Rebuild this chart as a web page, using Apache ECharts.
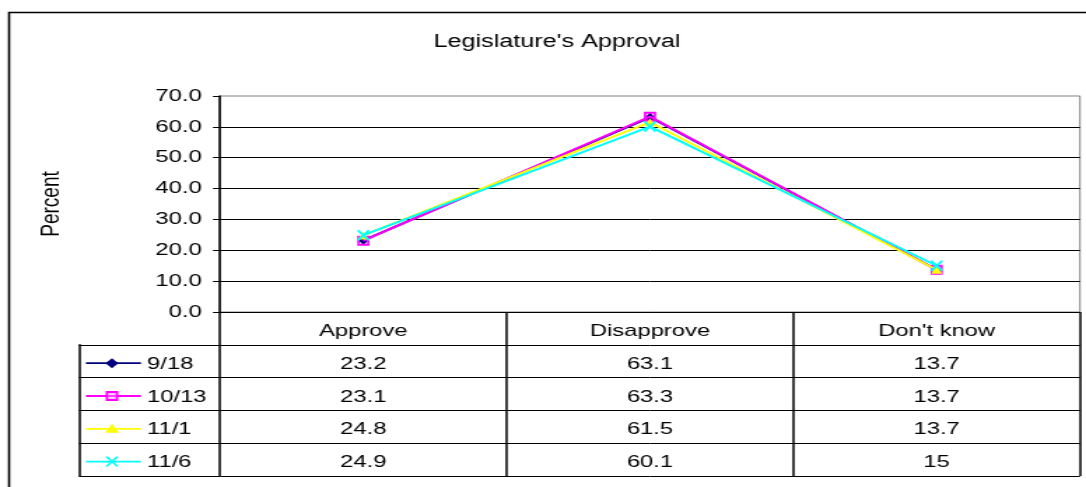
<!DOCTYPE html>
<html><head><meta charset="utf-8">
<script src="https://cdn.jsdelivr.net/npm/echarts@6/dist/echarts.min.js"></script>
<style>
html,body{margin:0;padding:0;background:#fff;overflow:hidden;width:1086px;height:487px;}
#chart{width:776px;height:487px;transform:scaleX(1.39948);transform-origin:0 0;}
</style></head><body><div id="chart"></div>
<script>
// ---- data ----
const TITLE = "Legislature's Approval";
const Y_NAME = 'Percent';
const CATEGORIES = ['Approve', 'Disapprove', "Don't know"];
const SERIES_NAMES = ['9/18', '10/13', '11/1', '11/6'];
const S_0918 = [23.2, 63.1, 13.7];
const S_1013 = [23.1, 63.3, 13.7];
const S_1101 = [24.8, 61.5, 13.7];
const S_1106 = [24.9, 60.1, 15];
const Y_MIN = 0, Y_MAX = 70, Y_STEP = 10;

// ---- styles ----
const SERIES_VALUES = [S_0918, S_1013, S_1101, S_1106];
const COLORS = ['#000080', '#FF00FF', '#FFFF00', '#00FFFF'];
const FONT = '"Liberation Sans", Arial, sans-serif';
const BLACK = '#000';

const PLOT_SYMBOLS = [
  { symbol: 'diamond', symbolSize: [7, 9], itemStyle: { color: COLORS[0], borderWidth: 0 } },
  { symbol: 'rect', symbolSize: [7, 8], itemStyle: { color: 'rgba(0,0,0,0)', borderColor: COLORS[1], borderWidth: 1.8 } },
  { symbol: 'triangle', symbolSize: [8, 8], itemStyle: { color: COLORS[2], borderWidth: 0 } },
  { symbol: 'path://M0,0L10,10M10,0L0,10', symbolSize: [8, 10], itemStyle: { color: 'rgba(0,0,0,0)', borderColor: COLORS[3], borderWidth: 1.8 } }
];

const lineSeries = SERIES_NAMES.map((name, i) => Object.assign({
  name: name,
  type: 'line',
  xAxisIndex: 0, yAxisIndex: 0,
  data: SERIES_VALUES[i],
  showSymbol: true,
  silent: true,
  z: 3 + i,
  lineStyle: { color: COLORS[i], width: 2 }
}, PLOT_SYMBOLS[i]));

// table rows: header row + one per series
const TABLE_ROWS = [' '].concat(SERIES_NAMES);
const cellData = [];
SERIES_NAMES.forEach((n, s) => CATEGORIES.forEach((c, ci) => cellData.push([c, n, SERIES_VALUES[s][ci]])));

const TEXT_DY = 3;

const tableSeries = {
  type: 'custom',
  xAxisIndex: 1, yAxisIndex: 1,
  silent: true,
  data: cellData,
  encode: { x: 0, y: 1 },
  renderItem: function (params, api) {
    const p = api.coord([api.value(0), api.value(1)]);
    return {
      type: 'text', x: p[0], y: p[1] + TEXT_DY,
      style: { text: String(cellData[params.dataIndex][2]), align: 'center', verticalAlign: 'middle', font: '17px ' + FONT, fill: BLACK }
    };
  }
};

function keyShape(i, cx, cy) {
  const c = COLORS[i];
  if (i === 0) return { type: 'polygon', shape: { points: [[cx, cy - 5], [cx + 4.6, cy], [cx, cy + 5], [cx - 4.6, cy]] }, style: { fill: c } };
  if (i === 1) return { type: 'rect', shape: { x: cx - 3.6, y: cy - 4, width: 7.2, height: 8 }, style: { fill: 'rgba(255,150,255,0.5)', stroke: c, lineWidth: 1.8 } };
  if (i === 2) return { type: 'polygon', shape: { points: [[cx, cy - 5], [cx + 5, cy + 4], [cx - 5, cy + 4]] }, style: { fill: c } };
  return { type: 'path', shape: { pathData: 'M' + (cx - 4) + ',' + (cy - 5) + 'L' + (cx + 4) + ',' + (cy + 5) + 'M' + (cx + 4) + ',' + (cy - 5) + 'L' + (cx - 4) + ',' + (cy + 5) }, style: { fill: 'none', stroke: c, lineWidth: 1.6 } };
}

const keySeries = {
  type: 'custom',
  xAxisIndex: 2, yAxisIndex: 2,
  silent: true,
  data: SERIES_NAMES.map(n => [0, n]),
  encode: { x: 0, y: 1 },
  renderItem: function (params, api) {
    const i = params.dataIndex;
    const p = api.coord([0, api.value(1)]);
    const x0 = params.coordSys.x, y = p[1] + 2;
    return {
      type: 'group',
      children: [
        { type: 'line', shape: { x1: x0 + 5, y1: y, x2: x0 + 44.3, y2: y }, style: { stroke: COLORS[i], lineWidth: 1.8 } },
        keyShape(i, x0 + 23.6, y),
        { type: 'text', x: x0 + 48.6, y: y + 1, style: { text: SERIES_NAMES[i], align: 'left', verticalAlign: 'middle', font: '17px ' + FONT, fill: BLACK } }
      ]
    };
  }
};

const PLOT_L = 157.2, PLOT_W = 614.5;

const option = {
  animation: false,
  backgroundColor: '#fff',
  textStyle: { fontFamily: FONT },
  title: {
    text: TITLE, left: 393, top: 28, textAlign: 'center',
    textStyle: { fontSize: 18, fontWeight: 'normal', color: BLACK, fontFamily: FONT }
  },
  graphic: [{
    type: 'rect', silent: true, z: -10,
    shape: { x: 6.5, y: 12.5, width: 1000, height: 1000 },
    style: { fill: 'none', stroke: BLACK, lineWidth: 1.6 }
  }],
  grid: [
    { left: PLOT_L, width: PLOT_W, top: 96, height: 216, show: true, borderColor: '#808080', borderWidth: 1, backgroundColor: 'rgba(0,0,0,0)', containLabel: false },
    { left: PLOT_L, width: PLOT_W, top: 312, height: 164, containLabel: false },
    { left: 56.4, width: PLOT_L - 56.4, top: 312 + 164 / 5, height: 164 * 4 / 5, containLabel: false }
  ],
  xAxis: [
    {
      gridIndex: 0, type: 'category', data: CATEGORIES, boundaryGap: true,
      axisLine: { show: false }, axisTick: { show: false }, splitLine: { show: false },
      axisLabel: { interval: 0, margin: 19, verticalAlign: 'middle', fontSize: 17, color: BLACK, fontFamily: FONT }
    },
    {
      gridIndex: 1, type: 'category', data: CATEGORIES, boundaryGap: true,
      axisLine: { show: false }, axisTick: { show: false, interval: 0 }, axisLabel: { show: false, interval: 0 },
      splitLine: { show: true, interval: 0, lineStyle: { color: BLACK, width: 1.5 } }
    },
    { gridIndex: 2, type: 'value', min: 0, max: 1, show: false }
  ],
  yAxis: [
    {
      gridIndex: 0, type: 'value', min: Y_MIN, max: Y_MAX, interval: Y_STEP,
      name: Y_NAME, nameLocation: 'middle', nameRotate: 90, nameGap: 111,
      nameTextStyle: { fontSize: 19, color: BLACK, fontFamily: FONT },
      axisLine: { show: true, lineStyle: { color: BLACK, width: 1.5 } },
      axisTick: { show: true, length: 5, lineStyle: { color: BLACK, width: 1 } },
      axisLabel: { formatter: v => v.toFixed(1), margin: 13, fontSize: 17, color: BLACK, fontFamily: FONT },
      splitLine: { show: true, showMaxLine: false, lineStyle: { color: BLACK, width: 1 } }
    },
    {
      gridIndex: 1, type: 'category', data: TABLE_ROWS, inverse: true,
      axisLine: { show: false }, axisTick: { show: false, interval: 0 }, axisLabel: { show: false, interval: 0 },
      splitLine: { show: true, interval: 0, lineStyle: { color: BLACK, width: 1 } }
    },
    {
      gridIndex: 2, type: 'category', data: SERIES_NAMES, inverse: true,
      axisLine: { show: true, lineStyle: { color: BLACK, width: 1.5 } },
      axisTick: { show: false, interval: 0 }, axisLabel: { show: false, interval: 0 },
      splitLine: { show: true, interval: 0, lineStyle: { color: BLACK, width: 1 } }
    }
  ],
  series: lineSeries.concat([tableSeries, keySeries])
};

const chart = echarts.init(document.getElementById('chart'), null, { renderer: 'canvas' });
chart.setOption(option);
</script>
</body></html>
